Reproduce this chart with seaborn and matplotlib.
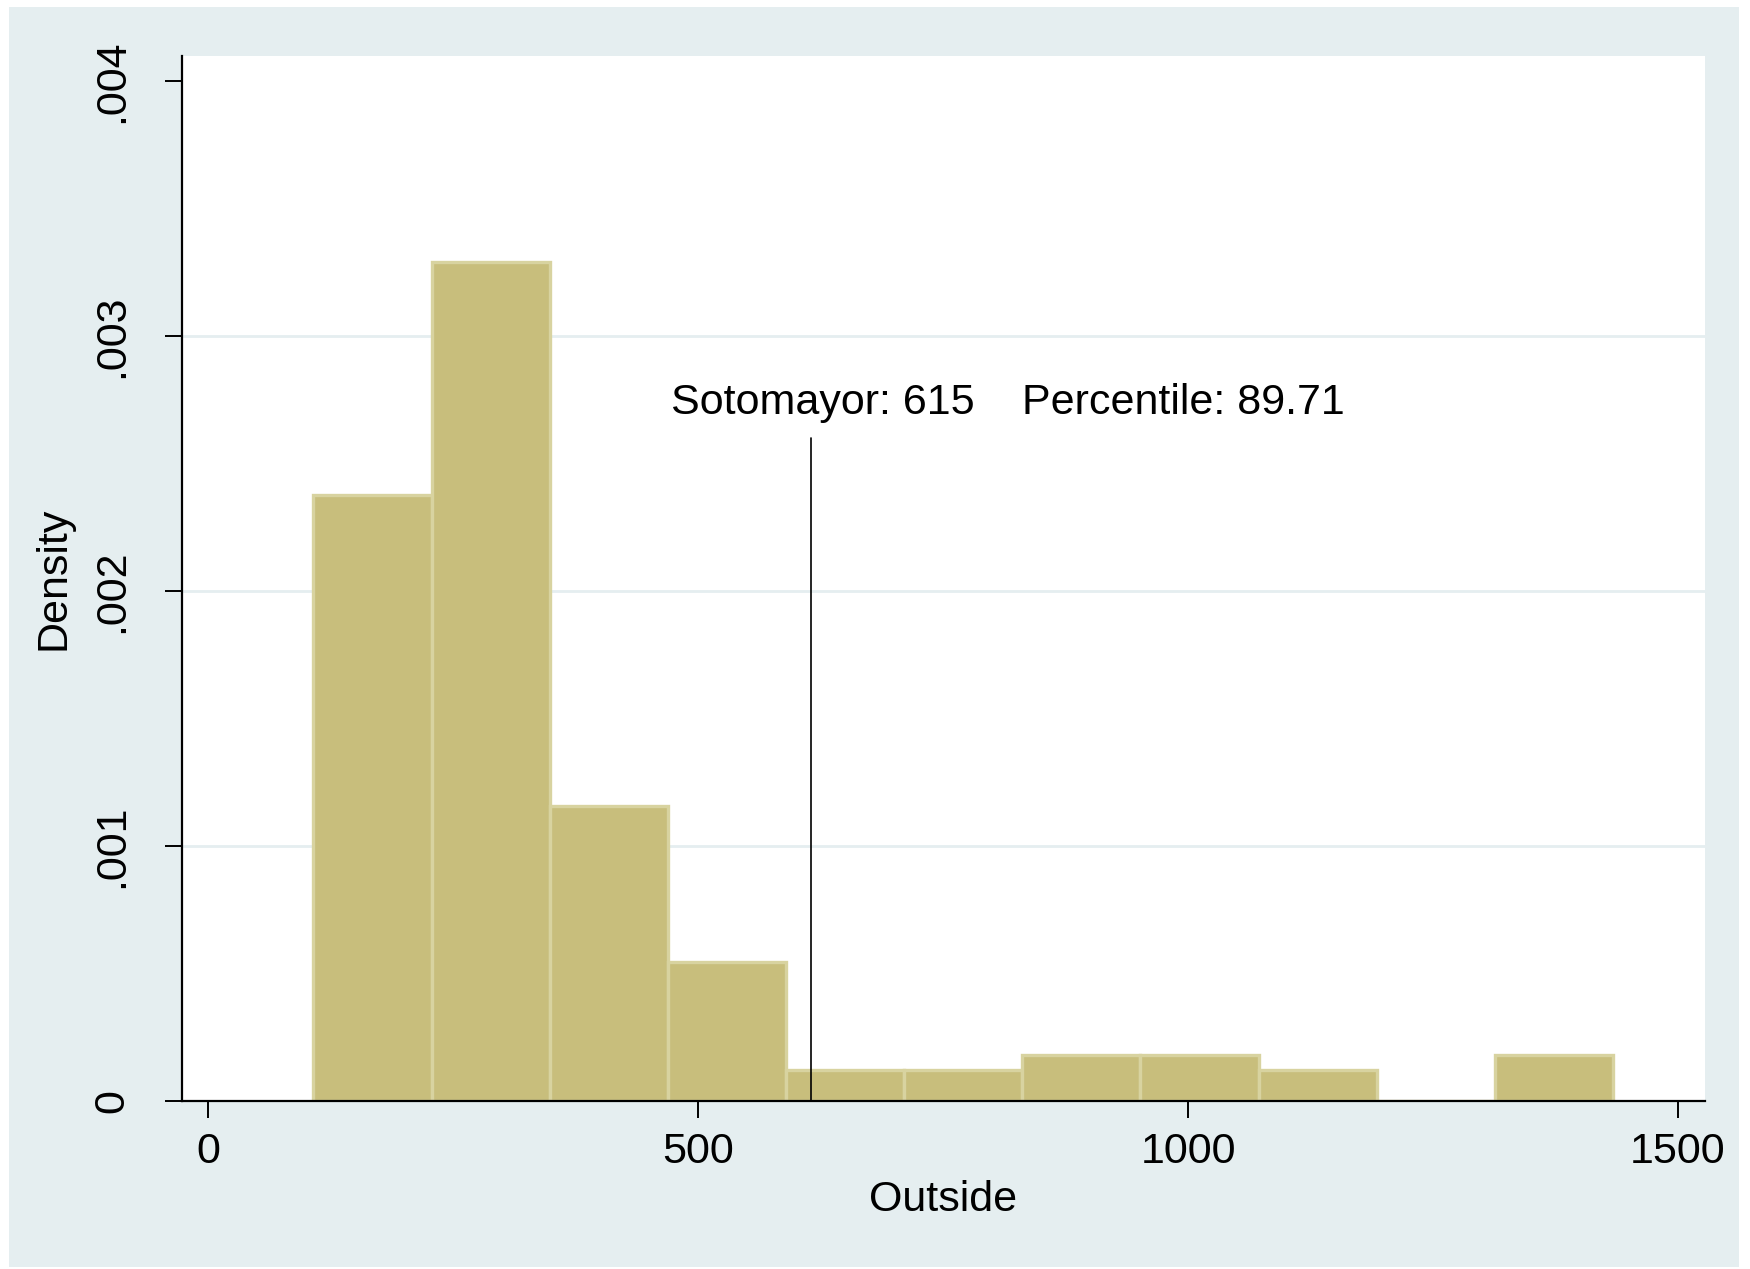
import matplotlib.pyplot as plt
import matplotlib.ticker as ticker
from matplotlib.patches import Rectangle
import seaborn as sns

# histogram: 11 bins, N = 136
bin_edges = [107.1, 227.7, 348.3, 468.9, 589.5, 710.1, 830.7, 951.3,
             1071.9, 1192.5, 1313.1, 1433.7]
bin_counts = [39, 54, 19, 9, 2, 2, 3, 3, 2, 0, 3]
bin_mids = [(a + b) / 2 for a, b in zip(bin_edges[:-1], bin_edges[1:])]

marker_x = 615
marker_top = 0.0026
label_name = "Sotomayor: 615"
label_pct = "Percentile: 89.71"

x_ticks = [0, 500, 1000, 1500]
y_ticks = [0, 0.001, 0.002, 0.003, 0.004]
y_tick_labels = ["0", ".001", ".002", ".003", ".004"]

sns.set_style("white")
plt.rcParams['font.family'] = ['Liberation Sans', 'DejaVu Sans']
plt.rcParams['text.color'] = 'black'
plt.rcParams['axes.labelcolor'] = 'black'

bg = '#e5eef0'
fig = plt.figure(figsize=(8.75, 6.345), dpi=200, facecolor='white')
fig.patches.append(Rectangle((9 / 1750, 2 / 1269), 1730 / 1750, 1260 / 1269,
                             transform=fig.transFigure, facecolor=bg,
                             edgecolor='none', zorder=-10))
ax = fig.add_axes([0.104, 0.132, 0.870, 0.824])
ax.set_facecolor('white')

for y in y_ticks[1:-1]:
    ax.axhline(y, color=bg, lw=1.0, zorder=0)

sns.histplot(x=bin_mids, weights=bin_counts, bins=bin_edges, stat='density',
             color='#c8be7c', edgecolor='#d8d3a0', linewidth=1.2, alpha=1,
             ax=ax, zorder=2)

ax.plot([marker_x, marker_x], [0, marker_top], color='black', lw=0.6, zorder=3)
ax.text(marker_x + 12, 0.00274, label_name, ha='center', va='center', fontsize=15.5)
ax.text(830, 0.00274, label_pct, ha='left', va='center', fontsize=15.5)

ax.set_xlim(-27, 1527)
ax.set_ylim(0, 0.0041)
ax.set_xticks(x_ticks)
ax.set_yticks(y_ticks)
ax.yaxis.set_major_formatter(ticker.FixedFormatter(y_tick_labels))
ax.tick_params(axis='both', direction='out', length=6, width=0.7, color='black',
               labelsize=15.5, labelcolor='black')
ax.tick_params(axis='x', bottom=True, pad=5)
ax.tick_params(axis='y', left=True, pad=12)
for lab in ax.get_yticklabels():
    lab.set_rotation(90)
    lab.set_va('center')

for side in ['top', 'right']:
    ax.spines[side].set_visible(False)
for side in ['left', 'bottom']:
    ax.spines[side].set_color('black')
    ax.spines[side].set_linewidth(0.8)

ax.set_xlabel('Outside', fontsize=15.5, labelpad=3)
ax.set_ylabel('Density', fontsize=15.5, labelpad=6.5)
ax.grid(False)

fig.savefig('out.png', dpi=200, facecolor='white')
